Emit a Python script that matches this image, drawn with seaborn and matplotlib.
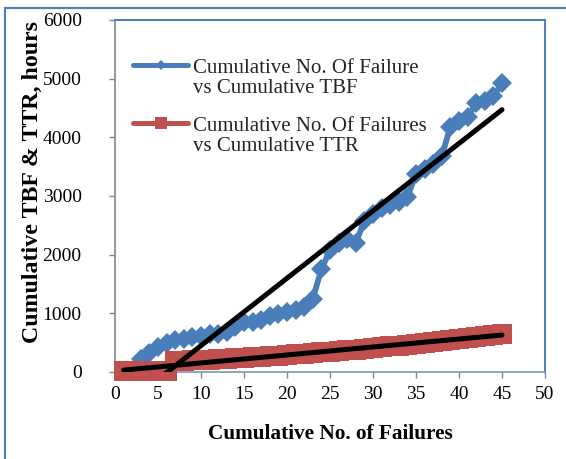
import matplotlib
matplotlib.use("Agg")
import matplotlib.pyplot as plt
from matplotlib.lines import Line2D
from matplotlib.patches import Rectangle
import pandas as pd
import seaborn as sns

# Cumulative number of failures vs cumulative time between failures (hours)
failures_tbf = list(range(3, 46))
cum_tbf = [230, 330, 420, 500, 550, 570, 600, 610, 640, 650,
           680, 760, 850, 860, 880, 950, 990, 1020, 1050, 1100,
           1250, 1750, 2080, 2200, 2260, 2200, 2580, 2700, 2800, 2850,
           2900, 2980, 3380, 3460, 3550, 3680, 4180, 4280, 4350, 4580,
           4620, 4700, 4920]

# Cumulative number of failures vs cumulative time to repair (hours)
failures_ttr = list(range(1, 46))
cum_ttr = [10, 12, 15, 18, 20, 22,
           185, 192, 199, 206, 213, 221, 229, 237, 245, 254,
           263, 272, 281, 291, 301, 311, 322, 333, 345, 357,
           369, 382, 395, 408, 422, 436, 451, 466, 481, 497,
           513, 530, 547, 564, 582, 600, 618, 636, 655]

x_ticks = list(range(0, 51, 5))
y_ticks = list(range(0, 6001, 1000))

label_tbf = ["Cumulative No. Of Failure", "vs Cumulative TBF"]
label_ttr = ["Cumulative No. Of Failures", "vs Cumulative TTR"]
x_title = "Cumulative No. of Failures"
y_title = "Cumulative TBF & TTR, hours"

BLUE = "#4A7EBB"
RED = "#C0504D"
AXIS_GREY = "#868686"
FRAME_BLUE = "#4F81BD"

sns.set_theme(style="white")
plt.rcParams["font.family"] = ["Liberation Serif", "DejaVu Serif"]
plt.rcParams["xtick.major.pad"] = 6
plt.rcParams["ytick.major.pad"] = 20
plt.rcParams["xtick.bottom"] = True
plt.rcParams["ytick.left"] = True

fig = plt.figure(figsize=(5.66, 4.59), dpi=100)
ax = fig.add_axes([115 / 566, 87 / 459, 430 / 566, 352 / 459])

tbf = pd.DataFrame({"n": failures_tbf, "hours": cum_tbf})
ttr = pd.DataFrame({"n": failures_ttr, "hours": cum_ttr})

sns.lineplot(data=tbf, x="n", y="hours", ax=ax, color=BLUE, lw=4.2,
             marker="D", markersize=10.5, markeredgewidth=0,
             errorbar=None, sort=False, zorder=3)
sns.lineplot(data=ttr, x="n", y="hours", ax=ax, color=RED, lw=3.6,
             marker="s", markersize=14.5, markeredgewidth=0,
             errorbar=None, sort=False, zorder=4, clip_on=False)

# Linear trend lines over each series
for df in (tbf, ttr):
    sns.regplot(data=df, x="n", y="hours", ax=ax, scatter=False, ci=None,
                truncate=True,
                line_kws={"color": "black", "lw": 3.6,
                          "solid_capstyle": "round", "zorder": 5})

ax.set_xlim(0, 50)
ax.set_ylim(0, 6000)
ax.set_xticks(x_ticks)
ax.set_yticks(y_ticks)

ax.tick_params(axis="both", which="major", direction="out", length=4,
               width=1, color=AXIS_GREY, labelsize=14, labelcolor="black")
ax.tick_params(axis="x", bottom=True, pad=6)
ax.tick_params(axis="y", left=True, pad=20)

for side in ("top", "right"):
    ax.spines[side].set_color(FRAME_BLUE)
    ax.spines[side].set_linewidth(1.5)
ax.spines["left"].set_color(AXIS_GREY)
ax.spines["bottom"].set_color("#7F93B2")
for side in ("left", "bottom"):
    ax.spines[side].set_linewidth(1.2)

ax.set_xlabel(x_title, fontsize=15.3, fontweight="bold", color="black")
ax.set_ylabel(y_title, fontsize=17.2, fontweight="bold", color="black")
ax.xaxis.set_label_coords(0.5, -0.147)
ax.yaxis.set_label_coords(-0.168, 0.54)

legend_kw = dict(frameon=False, fontsize=15, handlelength=2.64,
                 handletextpad=0.25, borderpad=0, borderaxespad=0,
                 labelspacing=0.05, loc="upper left")

blank = Line2D([], [], linestyle="none")
h_tbf = Line2D([], [], color=BLUE, lw=3.6, marker="D", markersize=5.5,
               markeredgewidth=0)
h_ttr = Line2D([], [], color=RED, lw=3.6, marker="s", markersize=8.5,
               markeredgewidth=0)

leg1 = ax.legend([h_tbf, blank], label_tbf, bbox_to_anchor=(0.042, 0.892),
                 **legend_kw)
ax.add_artist(leg1)
ax.legend([h_ttr, blank], label_ttr, bbox_to_anchor=(0.042, 0.727),
          **legend_kw)

# Outer chart border (top and left edges visible)
fig.add_artist(Rectangle((5 / 566, -0.2), 1.3, 1.2 - 8 / 459,
                         transform=fig.transFigure, fill=False,
                         edgecolor=FRAME_BLUE, lw=1.6))

fig.savefig("out.png", dpi=100)
